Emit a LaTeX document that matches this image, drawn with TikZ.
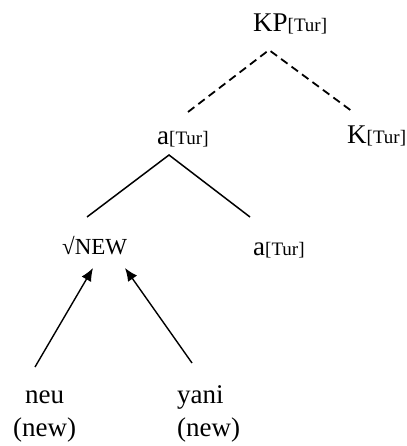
\documentclass[tikz,border=0pt]{standalone}
\usepackage{fontspec}
\setmainfont{Liberation Serif}
\usetikzlibrary{arrows.meta}
\newcommand\turfeat{{\fontsize{19}{22}\selectfont[Tur]}}
\begin{document}
\begin{tikzpicture}[x=1pt,y=-1pt,
  lbl/.style={anchor=base west, inner sep=0pt, font=\fontsize{27}{30}\selectfont},
  dashedge/.style={line width=1.8pt, dash pattern=on 8pt off 5pt},
  solidedge/.style={line width=1.5pt},
  arr/.style={line width=1.4pt, -{Latex[length=13pt,width=11pt]}}]
\useasboundingbox (0,0) rectangle (406,446);
\node[lbl] (kp) at (253,32) {KP\turfeat};
\node[lbl] (amid) at (157,145) {a\turfeat};
\node[lbl] (k) at (347,144) {K\turfeat};
\node[lbl] (root) at (62,254) {{\fontsize{23}{26}\selectfont √NEW}};
\node[lbl] (alow) at (253,255) {a\turfeat};
\node[lbl] (neu) at (25,403) {neu};
\node[lbl] (neugl) at (13,436) {(new)};
\node[lbl] (yani) at (177,403) {yani};
\node[lbl] (yanigl) at (177,436) {(new)};
\coordinate (kpfoot) at (269,50);
\coordinate (amidhead) at (188,112);
\coordinate (khead) at (353,112);
\coordinate (amidfoot) at (169,155);
\coordinate (roothead) at (87,217);
\coordinate (alowhead) at (250,217);
\coordinate (roottipL) at (93,268);
\coordinate (roottipR) at (125,268);
\coordinate (neuhead) at (35,367);
\coordinate (yanihead) at (192,363);
\draw[dashedge] (amidhead) -- (kpfoot) -- (khead);
\draw[solidedge] (roothead) -- (amidfoot) -- (alowhead);
\draw[arr] (neuhead) -- (roottipL);
\draw[arr] (yanihead) -- (roottipR);
\end{tikzpicture}
\end{document}
